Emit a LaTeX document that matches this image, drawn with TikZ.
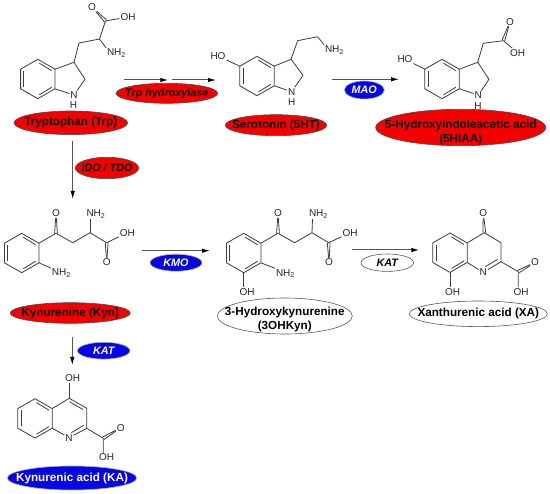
\documentclass[tikz,border=0pt]{standalone}
\usepackage{fontspec}
\setmainfont{Liberation Sans}
\usetikzlibrary{
  arrows.meta,
  shapes.geometric
}
\definecolor{bondgray}{HTML}{3C3C3C}
\definecolor{arrowgray}{HTML}{555555}
\definecolor{enzred}{HTML}{F40000}
\definecolor{enzblue}{HTML}{0505E6}
% two parallel strokes, offset by (#3,#4) to either side
\newcommand{\dblbond}[4]{
  \draw[bond] ([xshift=#3pt,yshift=#4pt]#1) -- ([xshift=#3pt,yshift=#4pt]#2);
  \draw[bond] ([xshift=-#3pt,yshift=-#4pt]#1) -- ([xshift=-#3pt,yshift=-#4pt]#2);
}

\begin{document}
\begin{tikzpicture}[x=1pt, y=-1pt,
  bond/.style={draw=bondgray, line width=.8pt, line join=round},
  atom/.style={font=\fontsize{10}{10}\selectfont, text=black!85, inner sep=.8pt},
  react/.style={draw=arrowgray, line width=1pt, -{Latex[black,length=8pt,width=4.5pt]}},
  metab/.style={ellipse, inner sep=0pt, line width=.6pt, align=center,
                font=\fontsize{11.7}{14}\selectfont\bfseries},
  enzyme/.style={ellipse, inner sep=0pt, line width=.6pt,
                 font=\fontsize{10.8}{12}\selectfont\bfseries\itshape},
  redfill/.style={draw=black!70, fill=enzred},
  bluefill/.style={draw=black!30, fill=enzblue, text=white},
  whitefill/.style={draw=black!65, fill=white},
  benzo/.pic={
    \coordinate (-a) at (0,-19.7);
    \coordinate (-b) at (17.2,-9.8);
    \coordinate (-c) at (17.2,9.8);
    \coordinate (-d) at (0,19.7);
    \coordinate (-e) at (-17.2,9.8);
    \coordinate (-f) at (-17.2,-9.8);
    \draw[bond] (-a) -- (-b) -- (-c) -- (-d) -- (-e) -- (-f) -- cycle;
    \draw[bond] (-14,-8) -- (-14,8);
    \draw[bond] (1.5,-15.8) -- (14,-8.2);
    \draw[bond] (14,8.2) -- (1.5,15.8);
  },
]
  \useasboundingbox (0,0) rectangle (550,494);

  % Tryptophan
  \pic (trp) at (37.8,79) {benzo};
  \coordinate (trpc3) at (74,62.3);
  \coordinate (trpc2) at (85,79.3);
  \coordinate (trpch) at (79,43);
  \coordinate (trpca) at (99.5,39);
  \coordinate (trpco) at (105.5,21);
  \node[atom] (trpn) at (74,95) {N};
  \node[atom] (trph) at (73.5,105.5) {H};
  \node[atom] (trpo) at (92,7) {O};
  \node[atom] (trpoh) at (128,17) {OH};
  \node[atom, anchor=west] (trpnh) at (106,53) {NH\textsubscript{2}};
  \draw[bond] (trp-b) -- (trpc3) -- (trpc2) -- (trpn) -- (trp-c);
  \draw[bond] (trpc3) -- (trpch) -- (trpca) -- (trpco) -- (trpoh);
  \draw[bond] (trpca) -- (trpnh.north west);
  \dblbond{trpco}{trpo}{1}{.97}

  % Serotonin
  \pic (sero) at (257,76) {benzo};
  \coordinate (seroc3) at (291,59.3);
  \coordinate (seroc2) at (303,75.3);
  \coordinate (seroch) at (297.7,40.7);
  \coordinate (seroca) at (317.7,36.7);
  \node[atom] (seron) at (291.7,91.7) {N};
  \node[atom] (seroh) at (291.7,102.5) {H};
  \node[atom] (seroho) at (218,56) {HO};
  \node[atom, anchor=west] (seronh) at (324,50) {NH\textsubscript{2}};
  \draw[bond] (sero-b) -- (seroc3) -- (seroc2) -- (seron) -- (sero-c);
  \draw[bond] (seroc3) -- (seroch) -- (seroca) -- (seronh.north west);
  \draw[bond] (sero-f) -- (seroho);

  % 5HIAA
  \pic (hiaa) at (442,79) {benzo};
  \coordinate (hiaac3) at (477.7,62.3);
  \coordinate (hiaac2) at (489,79.3);
  \coordinate (hiaach) at (483.3,43.3);
  \coordinate (hiaaco) at (503.3,40.7);
  \node[atom] (hiaan) at (478.3,95) {N};
  \node[atom] (hiaah) at (478,106) {H};
  \node[atom] (hiaaho) at (405,59.3) {HO};
  \node[atom] (hiaao) at (510,21.7) {O};
  \node[atom] (hiaaoh) at (517.7,52.7) {OH};
  \draw[bond] (hiaa-b) -- (hiaac3) -- (hiaac2) -- (hiaan) -- (hiaa-c);
  \draw[bond] (hiaac3) -- (hiaach) -- (hiaaco) -- (hiaaoh);
  \draw[bond] (hiaa-f) -- (hiaaho);
  \dblbond{hiaaco}{hiaao}{1.3}{-.46}

  % Kynurenine
  \pic (kyn) at (21.7,253) {benzo};
  \coordinate (kynco) at (56,233.3);
  \coordinate (kynch) at (72.7,242.7);
  \coordinate (kynca) at (90,232.7);
  \coordinate (kyncx) at (106.7,242.7);
  \node[atom] (kyno) at (56,213.3) {O};
  \node[atom, anchor=west] (kynnh) at (85.5,214) {NH\textsubscript{2}};
  \node[atom] (kynoh) at (127.3,232.7) {OH};
  \node[atom] (kynox) at (106.7,262.3) {O};
  \node[atom, anchor=west] (kynam) at (51,273.3) {NH\textsubscript{2}};
  \draw[bond] (kyn-b) -- (kynco) -- (kynch) -- (kynca) -- (kyncx) -- (kynoh);
  \draw[bond] (kynca) -- ([xshift=4.5pt]kynnh.south west);
  \draw[bond] (kyn-c) -- (kynam.north west);
  \dblbond{kynco}{kyno}{1.4}{0}
  \dblbond{kyncx}{kynox}{1.4}{0}

  % 3-Hydroxykynurenine
  \pic (ohk) at (243.7,253) {benzo};
  \coordinate (ohkco) at (278,233.3);
  \coordinate (ohkch) at (294.7,242.7);
  \coordinate (ohkca) at (312,232.7);
  \coordinate (ohkcx) at (328.7,242.7);
  \node[atom] (ohko) at (278,213.3) {O};
  \node[atom, anchor=west] (ohknh) at (308,214) {NH\textsubscript{2}};
  \node[atom] (ohkoh) at (350,232.7) {OH};
  \node[atom] (ohkox) at (329,262.3) {O};
  \node[atom, anchor=west] (ohkam) at (275,273.5) {NH\textsubscript{2}};
  \node[atom] (ohkho) at (247,291.7) {OH};
  \draw[bond] (ohk-b) -- (ohkco) -- (ohkch) -- (ohkca) -- (ohkcx) -- (ohkoh);
  \draw[bond] (ohkca) -- ([xshift=4.5pt]ohknh.south west);
  \draw[bond] (ohk-c) -- (ohkam.north west);
  \draw[bond] (ohk-d) -- (ohk-d |- ohkho.north);
  \dblbond{ohkco}{ohko}{1.4}{0}
  \dblbond{ohkcx}{ohkox}{1.4}{0}

  % Xanthurenic acid
  \pic (xan) at (450,252.7) {benzo};
  \coordinate (xanc4) at (484.3,232.7);
  \coordinate (xanc3) at (501,242.7);
  \coordinate (xanc2) at (501,261.7);
  \coordinate (xanco) at (518.3,271.7);
  \node[atom] (xann) at (483.3,272.3) {N};
  \node[atom] (xano) at (483.3,213.3) {O};
  \node[atom] (xanox) at (535,262.3) {O};
  \node[atom] (xanoh) at (521,291.7) {OH};
  \node[atom] (xanho) at (452.7,291.7) {OH};
  \draw[bond] (xan-b) -- (xanc4) -- (xanc3) -- (xanc2) -- (xann) -- (xan-c);
  \draw[bond] (xan-d) -- (xan-d |- xanho.north);
  \draw[bond] (xanc2) -- (xanco) -- (xanco |- xanoh.north);
  \draw[bond] (485.3,266.7) -- (497.7,259.3);
  \dblbond{xanc4}{xano}{1.4}{0}
  \dblbond{xanco}{xanox}{.69}{-1.22}

  % Kynurenic acid
  \pic (ka) at (35,418.4) {benzo};
  \coordinate (kac4) at (69.3,398.3);
  \coordinate (kac3) at (86.7,408.3);
  \coordinate (kac2) at (86.7,428.3);
  \coordinate (kaco) at (103.3,438.3);
  \node[atom] (kan) at (69,437.7) {N};
  \node[atom] (kaho) at (72.7,378.3) {OH};
  \node[atom] (kao) at (120.7,427.7) {O};
  \node[atom] (kaoh) at (106.7,457.3) {OH};
  \draw[bond] (ka-b) -- (kac4) -- (kac3) -- (kac2) -- (kan) -- (ka-c);
  \draw[bond] (kac4) -- (kac4 |- kaho.south);
  \draw[bond] (kac2) -- (kaco) -- (kaco |- kaoh.north);
  \draw[bond] (69.6,401.8) -- (83,409.5);
  \draw[bond] (71.3,432.7) -- (83.7,425.3);
  \dblbond{kaco}{kao}{.69}{-1.22}

  % metabolites
  \node[metab, redfill, minimum width=113.6pt, minimum height=23.6pt] (trpname) at (70.8,122.8) {\makebox[0pt]{Tryptophan (Trp)}};
  \node[metab, redfill, minimum width=101.4pt, minimum height=21pt] (seroname) at (276,125.2) {\makebox[0pt]{Serotonin (5HT)}};
  \node[metab, redfill, minimum width=170pt, minimum height=36.4pt] (hiaaell) at (460.7,127.5) {};
  \node[metab] (hiaaname) at (460.7,132) {5-Hydroxyindoleacetic acid\\(5HIAA)};
  \node[metab, redfill, minimum width=120pt, minimum height=20.6pt] (kynname) at (70.2,313) {\makebox[0pt]{Kynurenine (Kyn)}};
  \node[metab, whitefill, minimum width=135pt, minimum height=36pt] (ohkell) at (284.8,316) {};
  \node[metab] (ohkname) at (284.8,319.7) {3-Hydroxykynurenine\\(3OHKyn)};
  \node[metab, whitefill, minimum width=138pt, minimum height=25.6pt] (xanname) at (478.3,313.8) {\makebox[0pt]{Xanthurenic acid (XA)}};
  \node[metab, bluefill, minimum width=129.4pt, minimum height=24pt] (kaname) at (72,478) {\makebox[0pt]{Kynurenic acid (KA)}};

  % enzymes
  \node[enzyme, redfill, minimum width=101.6pt, minimum height=20pt] (tph) at (166.8,93.3) {\makebox[0pt]{Trp hydroxylase}};
  \node[enzyme, bluefill, minimum width=40pt, minimum height=18pt] (mao) at (364.3,90) {\makebox[0pt]{MAO}};
  \node[enzyme, redfill, minimum width=63.4pt, minimum height=21.4pt] (ido) at (107,168) {\makebox[0pt]{IDO / TDO}};
  \node[enzyme, bluefill, minimum width=52pt, minimum height=17pt] (kmo) at (176,262.7) {\makebox[0pt]{KMO}};
  \node[enzyme, whitefill, minimum width=52.6pt, minimum height=17.4pt] (katxa) at (387.3,262.7) {\makebox[0pt]{KAT}};
  \node[enzyme, bluefill, minimum width=52.6pt, minimum height=16.8pt] (katka) at (103.7,350.7) {\makebox[0pt]{KAT}};

  % arrows
  \coordinate (tphs) at (124.3,80);
  \coordinate (tphm) at (168.3,80);
  \coordinate (tphn) at (171.7,80);
  \coordinate (tphe) at (216,80);
  \coordinate (maos) at (331.7,79.3);
  \coordinate (maoe) at (399,79.3);
  \coordinate (idos) at (72.7,140.7);
  \coordinate (idoe) at (72.7,199);
  \coordinate (kmos) at (142.3,250.7);
  \coordinate (kmoe) at (210,250.7);
  \coordinate (kats) at (352.3,250);
  \coordinate (kate) at (419.3,250);
  \coordinate (kads) at (72.3,337.3);
  \coordinate (kade) at (72.3,365);
  \draw[react] (tphs) -- (tphm);
  \draw[react] (tphn) -- (tphe);
  \draw[react] (maos) -- (maoe);
  \draw[react] (idos) -- (idoe);
  \draw[react] (kmos) -- (kmoe);
  \draw[react] (kats) -- (kate);
  \draw[react] (kads) -- (kade);
\end{tikzpicture}
\end{document}
